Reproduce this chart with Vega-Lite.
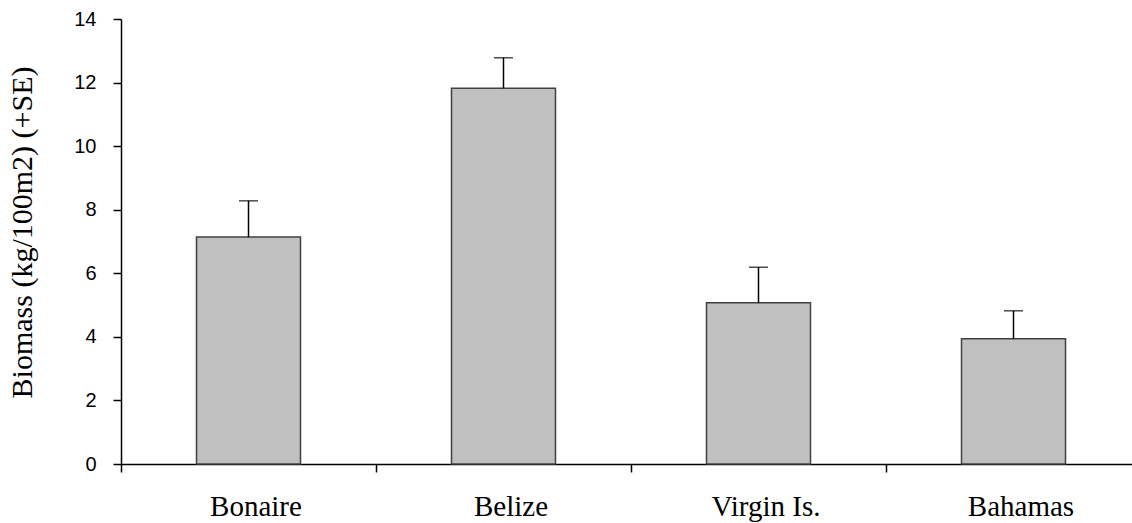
{
  "$schema": "https://vega.github.io/schema/vega-lite/v6.json",
  "autosize": "none",
  "padding": {"left": 121, "top": 19, "right": 0, "bottom": 59},
  "width": 1020,
  "height": 445,
  "background": "white",
  "config": {"view": {"stroke": null}},
  "data": {"values": [
    {"site": "Bonaire", "biomass": 7.14, "upper": 8.28},
    {"site": "Belize", "biomass": 11.82, "upper": 12.78},
    {"site": "Virgin Is.", "biomass": 5.07, "upper": 6.19},
    {"site": "Bahamas", "biomass": 3.94, "upper": 4.82}
  ]},
  "encoding": {
    "x": {
      "field": "site", "type": "nominal", "sort": null,
      "scale": {"paddingInner": 0, "paddingOuter": 0},
      "axis": {
        "title": null, "labelAngle": 0, "tickBand": "extent",
        "domainColor": "black", "domainWidth": 1.5,
        "tickColor": "black", "tickWidth": 1.5, "tickSize": 8,
        "labelFont": "Liberation Serif", "labelFontSize": 29, "labelColor": "black",
        "labelPadding": 20, "labelOffset": 7, "labelBaseline": "top"
      }
    }
  },
  "layer": [
    {
      "mark": {"type": "bar", "width": 104, "fill": "#C0C0C0", "stroke": "#404040", "strokeWidth": 1.5},
      "encoding": {
        "y": {
          "field": "biomass", "type": "quantitative",
          "scale": {"domain": [0, 14], "nice": false},
          "axis": {
            "values": [0, 2, 4, 6, 8, 10, 12, 14], "grid": false,
            "title": "Biomass (kg/100m2) (+SE)",
            "titleFont": "Liberation Serif", "titleFontSize": 30, "titleFontWeight": "normal", "titleColor": "black",
            "titleAngle": -90, "titleAlign": "center", "titleBaseline": "middle",
            "titleX": -99, "titleY": 213,
            "domainColor": "black", "domainWidth": 1.5,
            "tickColor": "black", "tickWidth": 1.5, "tickSize": 8,
            "labelFont": "Liberation Sans", "labelFontSize": 20, "labelColor": "black",
            "labelPadding": 17
          }
        }
      }
    },
    {
      "mark": {"type": "rule", "color": "black", "strokeWidth": 1.5},
      "encoding": {
        "y": {"field": "biomass", "type": "quantitative"},
        "y2": {"field": "upper"}
      }
    },
    {
      "mark": {"type": "tick", "color": "black", "thickness": 1.5, "size": 19, "orient": "horizontal"},
      "encoding": {
        "y": {"field": "upper", "type": "quantitative"}
      }
    }
  ]
}
